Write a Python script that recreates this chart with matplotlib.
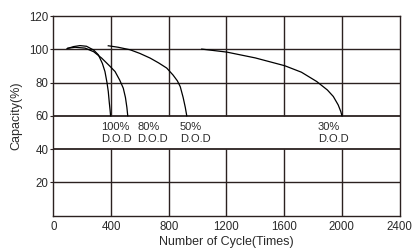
import numpy as np
import matplotlib
matplotlib.use("Agg")
import matplotlib.pyplot as plt

plt.rcParams['font.family'] = ['Liberation Sans', 'DejaVu Sans']

# cycle life curves (cycles, capacity %)
dod100_x = [95, 140, 185, 230, 280, 312, 340, 358, 372, 381, 388, 394, 397]
dod100_y = [100.4, 101.6, 102.2, 101.8, 99.5, 96.7, 91.5, 86.6, 80.0, 74.6, 68.0, 63.0, 60.0]

dod80_x = [100, 150, 220, 280, 335, 390, 428, 460, 485, 500, 510, 516]
dod80_y = [100.6, 101.2, 100.7, 98.5, 94.7, 90.0, 86.6, 81.5, 76.6, 71.0, 65.0, 60.0]

dod50_x = [381, 450, 532, 600, 671, 730, 786, 830, 860, 880, 900, 915, 925]
dod50_y = [102.1, 101.2, 99.7, 97.5, 94.7, 91.8, 88.7, 84.5, 81.0, 77.5, 71.0, 65.0, 60.0]

dod30_x = [1029, 1202, 1400, 1604, 1720, 1826, 1900, 1941, 1975, 1993, 2001]
dod30_y = [100.1, 98.3, 94.8, 90.1, 86.2, 80.6, 75.5, 71.6, 66.5, 62.5, 60.0]

labels = ["100%\nD.O.D", "80%\nD.O.D", "50%\nD.O.D", "30%\nD.O.D"]
label_x = [331, 583, 878, 1833]

x_ticks = [0, 400, 800, 1200, 1600, 2000, 2400]
y_ticks = [20, 40, 60, 80, 100, 120]

grid_c = '#2b2120'
text_c = '#2a2a2a'

fig = plt.figure(figsize=(4.12, 2.49), dpi=100)
ax = fig.add_axes([0.1294, 0.1345, 0.9697 - 0.1294, 0.9357 - 0.1345])

ax.set_xlim(0, 2400)
ax.set_ylim(0, 120)

# grid: vertical lines skip the 40-60 label band
for xv in x_ticks[1:-1]:
    ax.vlines(xv, 0, 40, color=grid_c, lw=1.0)
    ax.vlines(xv, 60, 120, color=grid_c, lw=1.0)
for yv in [20, 80, 100]:
    ax.axhline(yv, color=grid_c, lw=1.0)
for yv in [40, 60]:
    ax.axhline(yv, color=grid_c, lw=1.3)

for xs, ys in [(dod100_x, dod100_y), (dod80_x, dod80_y),
               (dod50_x, dod50_y), (dod30_x, dod30_y)]:
    ax.plot(xs, ys, color='black', lw=0.9)

for lx, lab in zip(label_x, labels):
    ax.text(lx, 56.3, lab, fontsize=8, ha='left', va='top',
            color=text_c, linespacing=1.2)

for s in ax.spines.values():
    s.set_color(grid_c)
    s.set_linewidth(1.0)

ax.set_xticks(x_ticks)
ax.set_yticks(y_ticks)
ax.tick_params(labelsize=8.3, colors=text_c)
ax.tick_params(axis='x', length=0, pad=4)
ax.tick_params(axis='y', length=2.5, width=0.8, color=grid_c, pad=1)

ax.set_xlabel("Number of Cycle(Times)", fontsize=9, color=text_c, labelpad=2)
ax.set_ylabel("Capacity(%)", fontsize=9, color=text_c, labelpad=5)

fig.savefig("out.png", dpi=100)
